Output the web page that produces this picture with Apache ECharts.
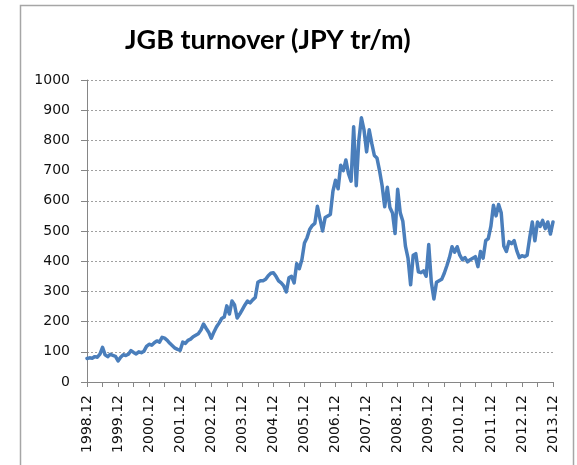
<!DOCTYPE html>
<html>
<head>
<meta charset="utf-8">
<title>JGB turnover</title>
<script src="https://cdn.jsdelivr.net/npm/echarts@6/dist/echarts.min.js"></script>
<style>
  html, body { margin: 0; padding: 0; background: #fff; }
  #main { width: 577px; height: 465px; }
</style>
</head>
<body>
<div id="main"></div>
<script>
// 月度成交额 (JPY tr/m), 1998.12 - 2013.12, 每行一年（12月起）
var turnover = [
  78, 80, 79, 84, 82, 92, 115, 90, 84, 92, 88, 85,
  70, 82, 90, 88, 92, 104, 98, 93, 100, 97, 102, 118,
  125, 122, 130, 136, 132, 148, 145, 138, 128, 120, 112, 108,
  105, 132, 128, 138, 142, 150, 155, 160, 172, 192, 178, 165,
  145, 165, 182, 195, 210, 215, 252, 225, 268, 255, 212, 225,
  240, 255, 268, 262, 272, 280, 330, 335, 335, 340, 352, 360,
  362, 350, 335, 328, 318, 298, 345, 350, 328, 392, 375, 405,
  460, 478, 505, 518, 525, 582, 540, 500, 545, 550, 555, 632,
  668, 640, 718, 700, 735, 690, 665, 845, 650, 800, 875, 835,
  762, 835, 790, 750, 742, 700, 650, 580, 645, 578, 560, 492,
  638, 560, 532, 450, 410, 322, 420, 425, 365, 362, 368, 350,
  455, 330, 275, 330, 335, 340, 360, 385, 412, 448, 430, 448,
  420, 405, 412, 398, 405, 410, 415, 382, 432, 410, 468, 475,
  515, 585, 550, 588, 560, 450, 432, 465, 458, 468, 435, 412,
  418, 415, 420, 478, 530, 468, 530, 515, 535, 508, 530, 490,
  530
];

// 类目：年.月
var startYear = 1998, startMonth = 12;
var months = [];
for (var i = 0; i < turnover.length; i++) {
  var t = startMonth - 1 + i;
  months.push((startYear + Math.floor(t / 12)) + '.' + (t % 12 + 1));
}

var yTicks = [0, 100, 200, 300, 400, 500, 600, 700, 800, 900, 1000];

var axisGray = '#868686';
var labelFont = 'DejaVu Sans';

var option = {
  animation: false,
  backgroundColor: '#fff',
  title: {
    text: 'JGB turnover (JPY tr/m)',
    left: 125,
    top: 27,
    padding: 0,
    textStyle: {
      fontFamily: 'Lato',
      fontWeight: 'bold',
      fontSize: 27,
      color: '#000'
    }
  },
  graphic: [{
    type: 'rect',
    shape: { x: 20.5, y: 5.5, width: 553, height: 480 },
    style: { fill: 'none', stroke: '#a6a6a6', lineWidth: 1.5 },
    silent: true
  }],
  grid: {
    left: 87,
    right: 24,
    top: 80,
    bottom: 83,
    containLabel: false
  },
  xAxis: {
    type: 'category',
    data: months,
    boundaryGap: false,
    axisLine: { show: true, lineStyle: { color: axisGray, width: 1 } },
    axisTick: { show: true, interval: 5, length: 5, lineStyle: { color: axisGray } },
    axisLabel: {
      interval: 11,
      rotate: 90,
      margin: 13,
      fontFamily: labelFont,
      fontSize: 14,
      color: '#111'
    },
    splitLine: { show: false }
  },
  yAxis: {
    type: 'value',
    min: yTicks[0],
    max: yTicks[yTicks.length - 1],
    interval: 100,
    axisLine: { show: true, lineStyle: { color: axisGray, width: 1 } },
    axisTick: { show: true, length: 6, lineStyle: { color: axisGray } },
    axisLabel: {
      margin: 17,
      fontFamily: labelFont,
      fontSize: 14,
      color: '#111',
      formatter: function (v) { return String(v); }
    },
    splitLine: {
      show: true,
      lineStyle: { color: '#a0a0a0', type: [2, 2], width: 1 }
    }
  },
  series: [{
    name: 'JGB turnover',
    type: 'line',
    data: turnover,
    showSymbol: false,
    smooth: false,
    z: 5,
    lineStyle: { color: '#4a7ebb', width: 3.5, cap: 'round', join: 'round' },
    itemStyle: { color: '#4a7ebb' }
  }]
};

var myChart = echarts.init(document.getElementById('main'));
myChart.setOption(option, true);
</script>
</body>
</html>
